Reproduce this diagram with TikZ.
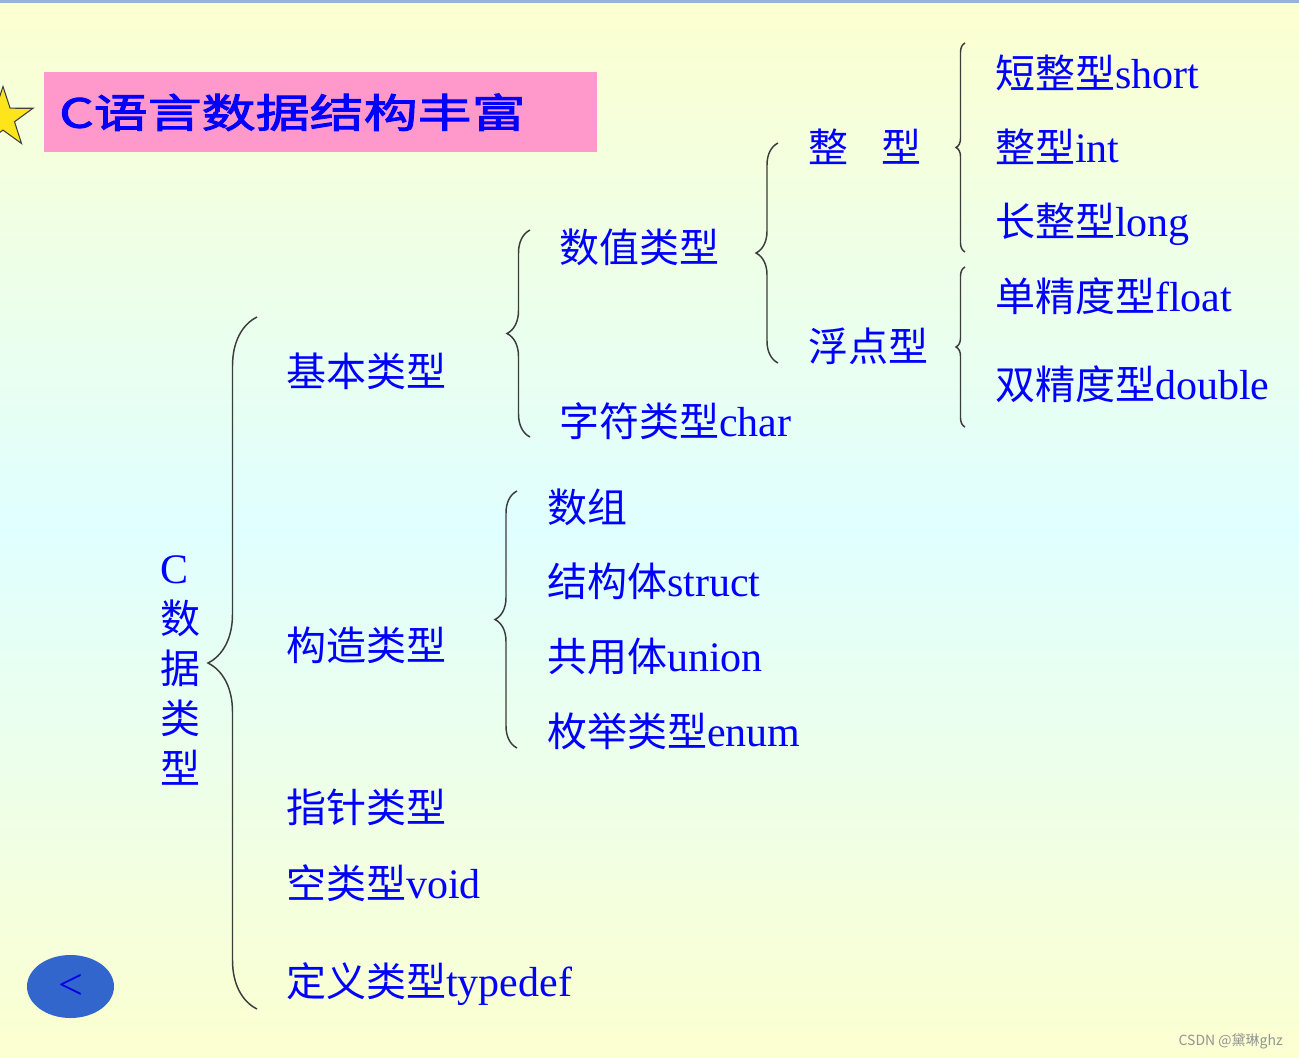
\documentclass[tikz,border=0pt]{standalone}
\usepackage{fontspec}
\setmainfont{Liberation Serif}
\newfontfamily\cjk{Noto Sans CJK SC}
\newfontfamily\ttlfont[FakeStretch=1.35,FakeBold=2.5]{Noto Sans CJK SC}
\usetikzlibrary{shapes.geometric,decorations.pathreplacing}
\definecolor{txtblue}{RGB}{0,0,255}
\definecolor{bgtop}{RGB}{252,255,208}
\definecolor{bgmid}{RGB}{224,255,255}
\definecolor{topline}{RGB}{147,180,214}
\definecolor{ttlpink}{RGB}{255,153,204}
\definecolor{btnblue}{RGB}{51,102,204}
\definecolor{brcgray}{RGB}{60,60,60}
\tikzset{lbl/.style={anchor=base west,inner sep=0pt,text=txtblue,font=\fontsize{31.5}{36}\selectfont},brc/.style={draw=brcgray,line width=1.1pt,decorate,decoration={brace}}}
\newcommand{\zh}[1]{{\cjk\fontsize{30}{36}\selectfont #1}}

\begin{document}
\begin{tikzpicture}[x=0.75pt,y=-0.75pt]
          \useasboundingbox (0,0) rectangle (1299,1057);
          \shade[top color=bgtop,bottom color=bgtop,middle color=bgmid] (0,0) rectangle (1299,1057);
          \fill[topline] (0,0) rectangle (1299,3);

          % title
          \node (star) [star,star points=5,star point ratio=2.6,minimum size=47.25pt,inner sep=0pt,fill=yellow!85!orange!90!white,draw=black!75,line width=0.8pt] at (3,118) {};
          \node (ttl) [anchor=north west,fill=ttlpink,text width=391.8pt,inner xsep=11.6pt,minimum height=60pt,align=left,text=txtblue,font=\ttlfont\fontsize{30}{36}\selectfont] at (43.5,72) {C语言数据结构丰富};

          % root
          \foreach \c [count=\i] in {C,\zh{数},\zh{据},\zh{类},\zh{型}}
          {\node (v-\i) [lbl] at (160,533+50*\i) {\c};}

          % first level
          \foreach \n/\y/\t in {basic/386/\zh{基本类型}, cons/660/\zh{构造类型}, ptr/822/\zh{指针类型}, void/898/\zh{空类型}void, tdef/996/\zh{定义类型}typedef}
          {\node (\n) [lbl] at (286,\y) {\t};}

          % second level
          \node (num) [lbl] at (559,262) {\zh{数值类型}};
          \node (chr) [lbl] at (559,436) {\zh{字符类型}char};
          \foreach \n/\y/\t in {arr/522/\zh{数组}, stru/596/\zh{结构体}struct, uni/671/\zh{共用体}union, enm/746/\zh{枚举类型}enum}
          {\node (\n) [lbl] at (547,\y) {\t};}

          % third level
          \node (int) [lbl] at (808,162) {\zh{整\hspace{25pt}型}};
          \node (flt) [lbl] at (808,361) {\zh{浮点型}};
          \foreach \n/\y/\t in {short/88/\zh{短整型}short, inte/162/\zh{整型}int, long/236/\zh{长整型}long, float/311/\zh{单精度型}float, dbl/399/\zh{双精度型}double}
          {\node (\n) [lbl] at (995,\y) {\t};}

          % braces
          \foreach \n/\x/\t/\b/\a in {all/257/317/1009/36.75, basic/530/230/437/17.25, cons/517/491/748/16.5, num/778/143/363/16.5, int/965/43/252/6.75, flt/965/267/427/6.75}
          {\coordinate (\n-t) at (\x,\t); \coordinate (\n-b) at (\x,\b);
            \draw[brc,decoration={brace,amplitude=\a pt}] (\n-b) -- (\n-t);}

          % back button + mark
          \node (back) [ellipse,fill=btnblue,minimum width=65.25pt,minimum height=47.25pt,inner sep=0pt,text=blue!90!black,font=\fontsize{33}{33}\selectfont] at (70.5,986.5) {<};
          \node (wm) [anchor=base east,inner sep=0pt,text=black!42,font=\cjk\fontsize{10.5}{12}\selectfont] at (1283,1045) {CSDN @黛琳ghz};
        \end{tikzpicture}
\end{document}
